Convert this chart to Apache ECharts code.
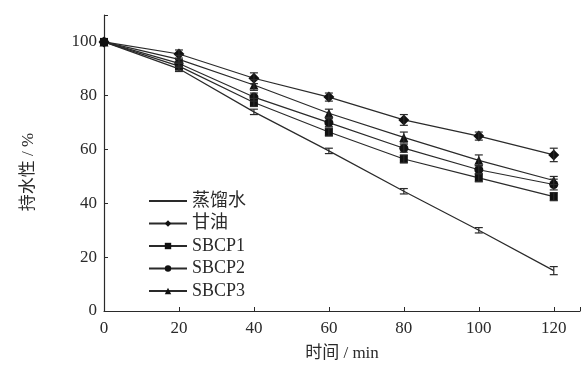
<!DOCTYPE html>
<html>
<head>
<meta charset="utf-8">
<script src="https://cdn.jsdelivr.net/npm/echarts@6/dist/echarts.min.js"></script>
<style>
  html, body { margin: 0; padding: 0; background: #fff; }
  #chart { width: 583px; height: 367px; }
</style>
</head>
<body>
<div id="chart"></div>
<script>
// time points (min)
const times = [0, 20, 40, 60, 80, 100, 120];

// water holding capacity (%)
const water = [100, 90, 74, 59.5, 44.5, 30, 15];
const glycerol = [100, 95.5, 86.5, 79.5, 71, 65, 58];
const sbcp1 = [100, 91, 77.5, 66.5, 56.5, 49.5, 42.5];
const sbcp2 = [100, 92, 79.5, 70, 60.5, 52.5, 47];
const sbcp3 = [100, 93.5, 84, 73.5, 64.5, 56, 48.5];

// error bar half-heights
const waterErr = [0, 1, 1, 1, 1, 1, 1.5];
const glycerolErr = [0, 1.5, 2, 1.5, 2, 1.5, 2.5];
const sbcp1Err = [0, 1.5, 1.5, 1.5, 1.5, 1.5, 1.5];
const sbcp2Err = [0, 1.5, 1.5, 1.5, 1.5, 1.5, 2];
const sbcp3Err = [0, 1.5, 2, 1.5, 2, 2, 1.5];

const names = ['蒸馏水', '甘油', 'SBCP1', 'SBCP2', 'SBCP3'];

const FONT = "'Liberation Serif', 'Noto Sans CJK SC', serif";
const INK = '#2a2a2a';

const chart = echarts.init(document.getElementById('chart'));

const lineSeries = (name, vals, symbol, size) => ({
  name,
  type: 'line',
  data: times.map((t, i) => [t, vals[i]]),
  symbol,
  symbolSize: size,
  showSymbol: symbol !== 'none',
  lineStyle: { color: INK, width: 1.2 },
  itemStyle: { color: '#111' },
  z: 3
});

const errSeries = (vals, errs) => ({
  type: 'custom',
  data: times.map((t, i) => [t, vals[i], errs[i]]),
  z: 4,
  renderItem: (params, api) => {
    const x = api.value(0), y = api.value(1), e = api.value(2);
    if (!e) return null;
    const top = api.coord([x, y + e]);
    const bot = api.coord([x, y - e]);
    const w = 4;
    const st = { stroke: INK, lineWidth: 1.2 };
    return {
      type: 'group',
      children: [
        { type: 'line', shape: { x1: top[0], y1: top[1], x2: bot[0], y2: bot[1] }, style: st },
        { type: 'line', shape: { x1: top[0] - w, y1: top[1], x2: top[0] + w, y2: top[1] }, style: st },
        { type: 'line', shape: { x1: bot[0] - w, y1: bot[1], x2: bot[0] + w, y2: bot[1] }, style: st }
      ]
    };
  }
});

chart.setOption({
  animation: false,
  backgroundColor: '#fff',
  grid: { left: 104, right: 2, top: 15, bottom: 54 },
  legend: {
    data: names.map(n => (n === '蒸馏水' ? { name: n, itemStyle: { opacity: 0 } } : n)),
    orient: 'vertical',
    left: 143,
    top: 187,
    itemWidth: 38,
    itemHeight: 8,
    itemGap: 4.5,
    textStyle: { fontFamily: FONT, fontSize: 18, color: INK }
  },
  xAxis: {
    type: 'value',
    min: 0,
    max: 127,
    interval: 20,
    name: '时间 / min',
    nameLocation: 'middle',
    nameGap: 34,
    nameTextStyle: { fontFamily: FONT, fontSize: 17, color: INK },
    axisLine: { lineStyle: { color: INK, width: 1.2 } },
    axisTick: { inside: true, length: 4, lineStyle: { color: INK } },
    axisLabel: {
      fontFamily: FONT, fontSize: 17, color: INK, margin: 9,
      formatter: v => (v % 20 === 0 ? String(v) : '')
    },
    splitLine: { show: false }
  },
  yAxis: {
    type: 'value',
    min: 0,
    max: 110,
    interval: 20,
    name: '持水性 / %',
    nameLocation: 'middle',
    nameGap: 67,
    nameTextStyle: { fontFamily: FONT, fontSize: 17, color: INK, padding: [0, 18, 0, 0] },
    axisLine: { show: true, lineStyle: { color: INK, width: 1.2 } },
    axisTick: { show: true, inside: true, length: 4, lineStyle: { color: INK } },
    axisLabel: {
      fontFamily: FONT, fontSize: 17, color: INK, margin: 7,
      formatter: v => (v % 20 === 0 ? String(v) : '')
    },
    splitLine: { show: false }
  },
  series: [
    lineSeries('蒸馏水', water, 'none', 0),
    lineSeries('甘油', glycerol, 'diamond', 11),
    lineSeries('SBCP1', sbcp1, 'rect', 8),
    lineSeries('SBCP2', sbcp2, 'circle', 9),
    lineSeries('SBCP3', sbcp3, 'triangle', 9),
    errSeries(water, waterErr),
    errSeries(glycerol, glycerolErr),
    errSeries(sbcp1, sbcp1Err),
    errSeries(sbcp2, sbcp2Err),
    errSeries(sbcp3, sbcp3Err)
  ]
});
</script>
</body>
</html>
